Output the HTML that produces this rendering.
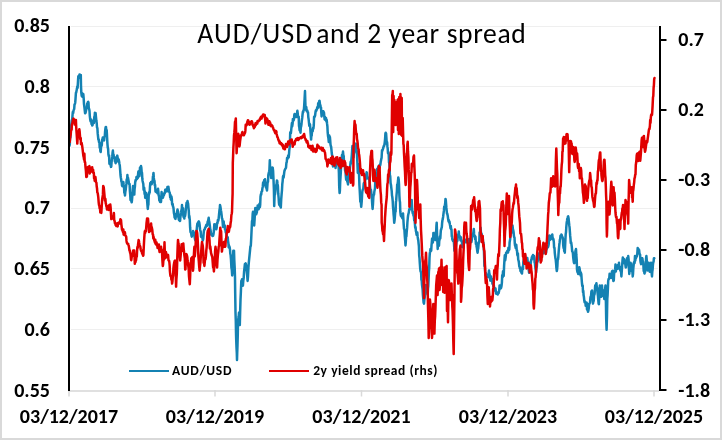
<!DOCTYPE html>
<html><head><meta charset="utf-8"><title>AUD/USD and 2 year spread</title>
<style>
html,body{margin:0;padding:0;background:#fff;}
body{width:722px;height:440px;overflow:hidden;}
svg{display:block;}
.ax{font-family:Carlito, 'Liberation Sans', sans-serif;font-weight:bold;font-size:20px;fill:#000;}
.lg{font-family:Carlito, 'Liberation Sans', sans-serif;font-weight:bold;font-size:13.5px;fill:#000;}
.tt{font-family:Carlito, 'Liberation Sans', sans-serif;font-size:27.6px;fill:#000;}
</style></head>
<body>
<svg width="722" height="440" viewBox="0 0 722 440">
<rect x="1" y="1" width="720" height="438" fill="#fff" stroke="#d9d9d9" stroke-width="2"/>
<line x1="71" y1="26.5" x2="658" y2="26.5" stroke="#efefef" stroke-width="1"/>
<line x1="71" y1="86.5" x2="658" y2="86.5" stroke="#efefef" stroke-width="1"/>
<line x1="71" y1="147.5" x2="658" y2="147.5" stroke="#efefef" stroke-width="1"/>
<line x1="71" y1="208.5" x2="658" y2="208.5" stroke="#efefef" stroke-width="1"/>
<line x1="71" y1="268.5" x2="658" y2="268.5" stroke="#efefef" stroke-width="1"/>
<line x1="71" y1="329.5" x2="658" y2="329.5" stroke="#efefef" stroke-width="1"/>
<line x1="69" y1="391" x2="659" y2="391" stroke="#d6d6d6" stroke-width="1.5"/>
<line x1="69" y1="390" x2="69" y2="396.5" stroke="#d9d9d9" stroke-width="1.5"/>
<line x1="215" y1="390" x2="215" y2="396.5" stroke="#d9d9d9" stroke-width="1.5"/>
<line x1="361.5" y1="390" x2="361.5" y2="396.5" stroke="#d9d9d9" stroke-width="1.5"/>
<line x1="508" y1="390" x2="508" y2="396.5" stroke="#d9d9d9" stroke-width="1.5"/>
<line x1="654" y1="390" x2="654" y2="396.5" stroke="#d9d9d9" stroke-width="1.5"/>
<text x="197.3" y="42.7" class="tt" textLength="114.84" lengthAdjust="spacing">AUD/USD</text>
<text x="316.2" y="42.7" class="tt" textLength="209.55" lengthAdjust="spacing">and 2 year spread</text>
<polyline points="69.5,145.8 69.8,144.2 70.0,137.6 70.4,137.7 70.7,131.9 71.1,127.3 71.4,123.8 71.8,120.1 72.2,119.5 72.5,115.6 72.8,112.0 73.2,113.0 73.5,110.6 73.9,109.6 74.2,108.9 74.5,104.7 74.9,104.0 75.2,102.7 75.5,99.1 75.9,93.0 76.2,92.5 76.6,90.6 76.9,89.1 77.3,86.4 77.6,87.8 78.0,81.4 78.3,76.2 78.6,76.0 78.9,77.8 79.2,76.0 79.5,74.5 79.8,76.7 80.2,74.7 80.5,75.3 80.8,75.0 81.0,85.8 81.3,92.5 81.7,95.8 82.0,96.1 82.4,96.6 82.7,93.9 83.0,95.2 83.3,94.0 83.7,98.6 84.0,104.1 84.4,107.0 84.7,109.8 85.1,113.3 85.4,113.0 85.8,111.9 86.1,110.2 86.5,108.0 86.8,108.1 87.2,103.7 87.5,104.0 87.8,102.3 88.2,101.8 88.5,102.7 88.8,108.8 89.2,109.1 89.5,111.0 89.8,115.8 90.2,119.3 90.5,121.0 90.8,121.6 91.2,119.4 91.5,123.9 91.9,123.2 92.2,125.6 92.6,125.0 92.9,121.5 93.3,120.9 93.6,123.0 93.9,123.0 94.3,116.8 94.6,117.0 94.9,112.7 95.3,113.4 95.6,113.0 96.0,117.4 96.3,120.3 96.7,123.0 97.0,127.2 97.4,128.3 97.7,133.4 98.0,136.1 98.4,139.8 98.7,139.5 99.0,142.1 99.4,142.2 99.7,147.7 100.0,146.9 100.4,151.3 100.7,152.0 101.1,146.6 101.4,146.2 101.8,145.0 102.1,140.2 102.5,139.0 102.8,137.4 103.1,137.5 103.5,138.8 103.8,139.8 104.1,140.4 104.4,137.0 104.8,136.2 105.1,131.6 105.4,128.7 105.7,127.1 106.0,127.0 106.4,131.7 106.7,130.1 107.1,137.8 107.4,143.4 107.8,147.8 108.1,148.6 108.4,154.3 108.8,156.3 109.1,155.5 109.4,163.7 109.7,162.4 110.0,162.5 110.4,163.9 110.7,165.5 111.0,166.9 111.3,166.2 111.6,162.0 112.0,158.5 112.3,156.2 112.6,152.5 112.9,150.6 113.3,156.5 113.6,154.7 113.9,158.0 114.2,156.9 114.6,157.7 114.9,161.5 115.2,159.3 115.6,163.2 116.0,161.5 116.3,158.0 116.7,157.1 117.0,157.0 117.3,155.6 117.7,158.1 118.0,158.5 118.4,161.8 118.7,159.5 119.1,161.4 119.4,163.7 119.8,165.5 120.1,169.3 120.5,175.0 120.8,177.5 121.1,179.0 121.4,181.5 121.7,182.0 122.0,185.3 122.4,186.3 122.7,182.2 123.0,185.1 123.3,182.0 123.7,184.8 124.0,186.5 124.3,192.8 124.7,193.1 125.0,195.5 125.3,192.1 125.7,189.8 126.0,186.8 126.4,183.9 126.7,179.4 127.1,179.6 127.4,175.0 127.7,178.5 128.0,177.8 128.3,179.5 128.7,181.6 129.0,183.8 129.3,184.2 129.6,184.0 129.9,191.1 130.2,194.7 130.5,200.0 130.8,198.0 131.1,198.4 131.4,201.5 131.7,202.3 132.0,200.0 132.3,196.3 132.7,189.9 133.0,186.0 133.3,188.7 133.7,193.9 134.0,193.0 134.3,194.6 134.6,188.8 134.9,186.8 135.2,182.2 135.6,180.0 135.9,180.5 136.2,178.9 136.5,177.0 136.8,178.2 137.1,178.8 137.4,177.8 137.8,178.0 138.1,174.1 138.4,171.4 138.7,173.0 139.0,172.3 139.4,176.2 139.7,172.2 140.0,167.5 140.3,168.0 140.7,169.7 141.0,166.0 141.3,167.4 141.7,172.3 142.0,172.9 142.3,178.5 142.6,181.0 143.0,182.7 143.3,184.0 143.6,189.8 143.9,187.8 144.2,187.8 144.6,193.8 144.9,191.5 145.2,197.8 145.5,195.5 145.8,196.1 146.2,192.9 146.5,194.0 146.8,197.3 147.2,201.6 147.5,205.7 147.8,209.0 148.1,205.5 148.4,204.6 148.7,195.5 149.1,193.9 149.4,191.8 149.7,192.8 150.0,186.5 150.3,183.1 150.7,183.8 151.0,182.1 151.3,182.1 151.7,184.2 152.0,183.0 152.3,182.0 152.6,182.0 152.9,176.8 153.2,175.4 153.5,173.0 153.8,177.9 154.2,180.6 154.5,180.8 154.8,185.5 155.1,184.7 155.5,191.5 155.8,191.0 156.1,191.9 156.4,190.5 156.7,190.6 157.1,191.5 157.4,193.2 157.7,189.9 158.0,188.7 158.3,191.2 158.7,195.6 159.0,196.2 159.3,200.5 159.6,197.4 160.0,202.0 160.3,202.0 160.6,200.4 161.0,202.0 161.3,197.6 161.6,192.1 161.9,195.8 162.3,195.9 162.6,195.0 162.9,197.7 163.3,196.3 163.6,195.3 163.9,195.3 164.2,193.3 164.6,193.4 164.9,193.0 165.2,189.8 165.5,192.0 165.9,189.7 166.2,189.3 166.5,190.0 166.8,190.4 167.1,191.0 167.4,187.1 167.8,191.3 168.1,187.2 168.4,186.8 168.8,189.7 169.1,191.8 169.4,192.0 169.8,192.9 170.2,197.3 170.5,195.0 170.8,199.3 171.1,199.7 171.4,196.5 171.8,198.7 172.1,204.0 172.4,204.8 172.7,203.9 173.0,207.0 173.3,207.0 173.6,209.2 173.9,213.0 174.3,214.7 174.6,217.5 174.9,216.0 175.2,218.6 175.5,218.9 175.9,215.5 176.2,214.0 176.5,216.5 176.8,213.2 177.2,210.9 177.5,209.5 177.8,210.8 178.2,211.9 178.5,217.1 178.8,219.5 179.1,220.1 179.5,220.4 179.8,221.0 180.1,221.0 180.4,217.0 180.7,215.2 181.1,212.9 181.4,210.1 181.7,210.6 182.0,205.0 182.3,211.3 182.7,212.7 183.0,208.3 183.3,215.5 183.6,216.9 184.0,216.4 184.3,218.6 184.6,216.2 185.0,216.2 185.3,214.7 185.6,212.0 185.9,208.3 186.3,205.3 186.6,202.7 186.9,204.4 187.2,203.0 187.5,201.1 187.8,202.7 188.1,203.7 188.4,207.3 188.8,211.1 189.1,217.8 189.4,216.0 189.8,220.1 190.1,227.2 190.5,232.0 190.8,232.3 191.2,233.3 191.5,235.8 191.8,236.6 192.1,234.4 192.5,233.3 192.8,234.5 193.1,231.1 193.4,232.5 193.7,235.1 194.0,232.5 194.3,234.2 194.6,237.1 195.0,239.1 195.3,240.2 195.6,240.5 196.0,238.2 196.4,231.0 196.7,229.9 197.0,226.4 197.4,223.5 197.7,225.6 198.0,223.0 198.4,221.8 198.8,221.4 199.2,222.3 199.6,224.6 200.0,229.2 200.4,231.0 200.7,231.2 201.0,236.6 201.4,237.0 201.7,235.7 202.0,237.3 202.4,237.6 202.8,240.5 203.2,238.9 203.6,234.0 203.9,231.0 204.2,229.7 204.5,229.7 204.8,229.2 205.1,227.7 205.4,227.2 205.7,227.2 206.1,225.4 206.4,224.8 206.7,224.6 207.0,225.9 207.3,224.6 207.7,221.4 208.0,223.9 208.3,219.8 208.7,217.8 209.1,221.4 209.5,223.1 209.9,226.1 210.3,229.6 210.7,231.0 211.1,234.7 211.5,234.0 211.8,235.2 212.1,234.2 212.5,236.0 212.8,235.3 213.1,235.7 213.5,234.2 213.9,231.0 214.3,224.2 214.7,227.7 215.1,225.3 215.5,224.6 215.9,225.2 216.3,229.3 216.7,227.4 217.1,223.0 217.5,223.2 217.9,219.8 218.3,220.9 218.7,218.2 219.1,213.9 219.5,210.0 219.8,208.3 220.0,205.0 220.3,206.1 220.6,208.0 220.9,210.2 221.2,211.8 221.6,214.8 221.9,218.2 222.3,218.9 222.7,223.0 223.0,226.9 223.3,226.6 223.7,221.6 224.0,226.2 224.3,226.1 224.7,225.3 225.0,229.3 225.4,229.7 225.8,232.5 226.1,232.3 226.4,233.6 226.8,236.4 227.1,237.0 227.4,238.9 227.7,237.2 228.0,240.6 228.4,243.2 228.7,247.5 229.0,245.3 229.3,247.5 229.6,246.9 230.0,249.6 230.3,253.7 230.6,254.8 231.0,259.7 231.4,267.5 231.8,269.7 232.2,275.5 232.6,269.7 233.0,262.8 233.3,250.7 233.7,250.8 234.0,250.7 234.3,260.2 234.7,267.7 235.0,277.8 235.2,293.3 235.5,312.5 235.8,321.3 236.0,332.5 236.2,339.4 236.5,347.5 236.8,352.9 237.0,360.0 237.2,353.1 237.5,345.0 237.8,333.7 238.0,320.0 238.3,318.9 238.7,316.3 239.0,312.5 239.4,317.5 239.8,325.0 240.2,310.0 240.5,300.0 240.9,291.3 241.3,281.0 241.7,280.5 242.0,279.4 242.3,281.8 242.6,281.5 242.9,285.7 243.3,280.7 243.7,277.8 244.1,271.4 244.5,268.0 244.9,264.0 245.3,264.2 245.7,263.3 246.0,266.0 246.4,265.3 246.8,271.4 247.2,275.3 247.6,281.0 248.0,276.5 248.4,268.0 248.8,262.6 249.2,258.7 249.6,254.7 250.0,250.7 250.4,246.3 250.8,246.0 251.2,238.7 251.6,230.0 252.0,221.0 252.3,221.7 252.7,213.6 253.0,211.8 253.3,214.4 253.6,221.1 253.9,223.5 254.2,225.5 254.6,219.4 255.0,212.0 255.3,208.1 255.6,210.2 255.9,212.7 256.2,214.3 256.5,211.0 256.8,212.8 257.1,209.7 257.4,208.4 257.7,205.5 258.0,209.0 258.3,205.3 258.6,209.2 258.9,207.6 259.2,207.0 259.5,203.7 259.9,207.2 260.2,204.7 260.5,196.8 260.9,194.3 261.2,194.7 261.5,191.8 261.8,191.4 262.1,191.1 262.4,188.4 262.8,186.4 263.1,182.5 263.4,184.9 263.7,182.7 264.0,181.2 264.3,179.9 264.6,181.0 265.0,179.3 265.3,181.7 265.6,186.7 266.0,187.0 266.3,188.0 266.6,188.4 267.0,190.5 267.3,186.6 267.6,182.5 268.0,181.8 268.3,175.3 268.6,173.6 269.0,172.0 269.4,170.0 269.8,160.3 270.1,168.3 270.5,172.0 270.9,175.4 271.2,178.0 271.5,176.7 271.9,174.0 272.3,167.4 272.7,167.7 273.1,171.0 273.5,179.5 273.9,189.5 274.2,206.0 274.6,195.1 275.0,194.3 275.4,190.6 275.7,187.0 276.0,187.6 276.3,184.8 276.6,184.1 276.9,180.5 277.2,181.0 277.5,183.9 277.9,186.0 278.2,193.2 278.6,197.3 278.9,202.4 279.2,204.8 279.5,204.6 279.8,204.7 280.1,206.0 280.5,205.3 280.8,207.6 281.2,199.4 281.6,194.3 282.0,189.8 282.3,184.0 282.6,181.6 283.0,176.6 283.3,175.8 283.6,177.5 283.9,175.3 284.2,172.6 284.5,170.7 284.9,169.7 285.2,169.0 285.6,168.5 286.0,167.7 286.4,163.0 286.8,161.8 287.1,157.9 287.5,158.9 287.8,157.9 288.1,156.0 288.4,155.3 288.7,157.4 289.0,154.4 289.3,149.9 289.7,147.4 290.0,140.0 290.2,132.7 290.5,132.0 290.9,133.0 291.2,130.2 291.5,127.0 291.9,123.1 292.2,126.4 292.6,123.8 292.9,118.9 293.2,120.7 293.6,120.5 294.0,119.0 294.3,114.9 294.6,114.0 295.0,114.3 295.3,114.7 295.7,116.9 296.0,117.0 296.3,117.1 296.7,116.8 297.0,113.6 297.4,110.8 297.7,113.1 298.0,116.3 298.4,117.7 298.7,116.6 299.0,126.0 299.3,127.2 299.6,130.3 299.9,129.0 300.2,130.3 300.5,132.7 300.8,127.7 301.2,126.2 301.5,124.0 301.8,120.7 302.2,117.9 302.5,115.0 302.9,111.7 303.2,112.4 303.5,110.3 303.9,109.6 304.2,105.7 304.6,98.6 305.0,91.1 305.3,101.4 305.6,109.6 305.9,107.6 306.3,107.0 306.6,111.0 307.0,110.4 307.3,110.4 307.6,112.5 308.0,112.3 308.3,117.3 308.6,119.0 309.0,123.0 309.3,126.0 309.6,123.8 310.0,124.6 310.3,128.7 310.7,134.3 311.1,139.6 311.4,134.9 311.7,135.7 312.0,131.4 312.4,131.0 312.7,131.1 313.0,128.0 313.4,128.7 313.8,125.0 314.1,116.7 314.4,117.3 314.8,116.4 315.1,115.5 315.5,112.1 315.9,110.3 316.2,111.0 316.5,109.6 316.9,109.5 317.2,107.3 317.5,108.2 317.9,108.0 318.2,103.2 318.5,106.3 318.9,104.0 319.2,101.2 319.5,100.7 319.8,102.5 320.1,106.3 320.4,105.0 320.7,108.2 321.0,107.4 321.3,112.7 321.6,116.4 322.0,113.3 322.3,111.6 322.6,111.2 323.0,112.3 323.3,111.3 323.6,111.9 324.0,112.7 324.3,116.4 324.6,119.3 325.0,117.1 325.4,120.0 325.7,119.0 326.0,117.9 326.4,121.5 326.7,119.9 327.0,123.2 327.4,126.4 327.7,132.7 328.1,136.5 328.4,138.1 328.8,142.0 329.2,135.4 329.6,136.8 329.9,136.9 330.2,140.4 330.5,144.5 330.8,146.0 331.1,146.6 331.4,149.4 331.7,152.5 332.0,155.0 332.3,155.6 332.7,161.4 333.0,166.4 333.3,163.3 333.6,164.4 333.9,162.8 334.2,161.8 334.5,163.0 334.9,160.2 335.2,164.8 335.5,168.0 335.9,165.4 336.2,163.0 336.6,162.1 336.9,159.4 337.2,160.4 337.6,159.5 337.9,162.0 338.2,163.7 338.5,163.6 338.9,172.8 339.2,186.2 339.6,193.0 339.9,190.5 340.2,181.8 340.5,177.2 340.8,172.7 341.1,165.0 341.4,162.6 341.7,160.4 342.0,155.0 342.3,157.7 342.6,155.0 343.0,151.6 343.3,155.0 343.7,155.9 344.0,161.7 344.4,161.8 344.8,165.8 345.1,170.6 345.5,171.0 345.8,175.6 346.1,179.2 346.4,180.0 346.7,180.0 347.0,180.0 347.3,181.9 347.6,181.8 348.0,184.4 348.3,177.4 348.6,171.1 349.0,172.0 349.3,173.6 349.7,170.9 350.0,167.1 350.3,165.0 350.7,161.7 351.0,163.6 351.4,159.6 351.8,155.0 352.1,150.9 352.4,146.0 352.8,148.7 353.1,152.4 353.5,157.3 353.9,153.0 354.2,152.8 354.6,148.0 354.9,147.1 355.2,148.5 355.5,143.9 355.8,143.6 356.1,145.0 356.4,148.0 356.7,150.7 357.0,155.0 357.4,163.2 357.8,172.7 358.1,170.1 358.5,164.0 358.8,173.1 359.1,175.4 359.4,185.0 359.7,190.0 360.0,195.5 360.3,201.6 360.6,201.8 360.9,202.6 361.2,206.8 361.5,203.9 361.8,200.4 362.1,194.5 362.4,191.0 362.7,189.9 363.0,189.2 363.3,188.7 363.7,183.9 364.0,182.8 364.3,184.1 364.6,184.0 364.9,182.6 365.3,179.8 365.6,175.5 365.9,179.0 366.2,175.8 366.6,172.3 366.9,172.7 367.2,176.0 367.6,177.4 367.9,178.2 368.3,178.7 368.6,178.9 369.0,178.0 369.3,178.9 369.6,182.0 369.9,185.1 370.2,188.1 370.6,190.3 370.9,189.6 371.2,191.7 371.5,195.5 371.9,198.9 372.2,203.8 372.6,209.0 373.0,203.6 373.3,198.0 373.6,195.0 374.0,195.0 374.3,191.9 374.7,189.7 375.0,188.3 375.3,181.4 375.7,180.3 376.0,179.5 376.3,179.0 376.6,172.8 376.9,171.5 377.2,168.8 377.6,172.4 377.9,170.1 378.2,167.1 378.5,166.4 378.8,166.0 379.1,165.5 379.4,166.9 379.7,167.6 380.0,164.5 380.3,165.1 380.7,162.1 381.0,160.6 381.3,158.9 381.6,157.7 382.0,150.3 382.3,151.0 382.6,149.9 382.9,149.1 383.2,148.3 383.6,146.6 383.9,145.7 384.2,145.9 384.5,144.0 384.8,141.8 385.1,138.8 385.4,133.6 385.7,132.7 386.1,133.5 386.4,137.9 386.8,144.0 387.1,142.2 387.4,146.4 387.7,148.6 388.0,153.2 388.3,152.1 388.7,154.3 389.0,162.3 389.3,163.3 389.6,167.3 389.9,176.2 390.2,176.0 390.6,183.2 391.0,185.0 391.3,187.8 391.7,190.8 392.0,195.5 392.3,197.0 392.7,200.8 393.0,206.8 393.3,209.5 393.6,214.3 393.9,217.4 394.2,222.7 394.6,220.1 394.9,216.7 395.3,211.4 395.6,211.6 395.9,202.2 396.2,200.4 396.5,195.5 396.9,191.2 397.2,184.6 397.6,184.0 398.0,181.0 398.3,177.4 398.7,179.5 399.0,184.1 399.4,195.8 399.7,200.6 400.0,202.3 400.3,211.5 400.7,215.1 401.0,216.0 401.3,214.4 401.7,216.8 402.0,217.2 402.3,218.1 402.6,215.7 403.0,213.4 403.3,218.0 403.7,224.6 404.0,228.8 404.4,229.5 404.8,236.3 405.1,239.7 405.5,245.5 405.8,242.3 406.1,236.3 406.4,236.4 406.7,231.8 407.1,227.9 407.4,222.5 407.8,218.0 408.1,215.4 408.4,214.0 408.8,212.7 409.1,210.1 409.4,209.0 409.8,209.6 410.1,207.9 410.5,206.0 410.8,204.6 411.1,201.4 411.4,203.3 411.7,200.0 412.1,207.6 412.4,211.3 412.8,213.6 413.1,211.9 413.5,216.0 413.9,216.0 414.2,220.4 414.6,220.5 414.9,223.3 415.2,227.6 415.6,227.2 415.9,231.0 416.2,231.8 416.6,234.9 417.0,235.0 417.3,232.5 417.6,236.4 418.0,239.1 418.3,240.4 418.6,243.6 418.9,246.2 419.2,255.6 419.5,258.0 419.8,262.8 420.2,268.3 420.5,271.0 420.8,271.9 421.1,272.4 421.4,280.0 421.7,280.1 422.0,284.8 422.3,287.0 422.6,289.3 422.9,294.9 423.2,298.0 423.6,302.5 424.0,303.6 424.3,300.2 424.7,297.3 425.0,294.5 425.3,289.9 425.7,289.8 426.0,285.0 426.3,290.8 426.7,290.9 427.0,290.4 427.4,291.2 427.7,294.5 428.0,288.7 428.3,286.2 428.6,280.0 428.9,271.6 429.2,267.8 429.5,258.0 429.8,253.4 430.2,251.5 430.5,249.0 430.8,250.2 431.2,250.8 431.5,245.5 431.8,242.5 432.1,238.6 432.4,239.6 432.8,242.6 433.1,240.5 433.4,232.9 433.7,234.9 434.1,239.1 434.4,234.0 434.8,235.1 435.1,239.5 435.5,240.0 435.8,232.1 436.1,233.3 436.4,226.0 436.7,222.7 437.0,232.7 437.4,242.3 437.7,249.0 438.0,243.5 438.4,243.1 438.7,245.8 439.0,245.5 439.3,240.1 439.6,240.0 439.9,236.5 440.3,238.3 440.6,233.7 440.9,229.9 441.2,229.5 441.5,227.9 441.8,227.5 442.1,223.2 442.4,220.5 442.8,218.9 443.1,217.0 443.5,213.6 443.9,210.7 444.2,206.6 444.6,206.8 444.9,205.4 445.2,202.8 445.5,198.9 445.8,200.0 446.1,204.2 446.4,207.9 446.7,210.8 447.0,213.6 447.3,213.8 447.7,215.7 448.0,218.0 448.3,220.1 448.6,221.6 448.9,220.3 449.2,222.7 449.5,221.6 449.9,224.7 450.2,226.0 450.5,228.3 450.8,225.9 451.2,229.8 451.5,229.5 451.8,236.5 452.0,236.0 452.4,239.9 452.7,239.1 453.0,241.1 453.4,240.0 453.7,240.6 454.0,243.4 454.4,250.7 454.7,249.6 455.0,246.6 455.4,245.0 455.7,247.6 456.0,246.0 456.4,243.1 456.7,240.8 457.1,237.7 457.4,240.8 457.8,236.1 458.1,234.6 458.5,234.3 458.8,231.6 459.1,236.0 459.5,236.0 459.9,236.4 460.2,237.6 460.5,240.3 460.9,237.3 461.2,241.0 461.5,240.2 461.9,241.9 462.2,246.8 462.5,245.3 462.9,247.2 463.2,242.4 463.5,243.0 463.9,241.6 464.2,241.4 464.6,242.6 464.9,239.6 465.2,240.7 465.6,240.0 466.0,242.1 466.3,241.4 466.6,241.4 467.0,242.0 467.4,242.7 467.7,242.5 468.0,243.3 468.4,240.0 468.7,239.2 469.0,242.8 469.4,241.4 469.7,239.5 470.0,242.0 470.4,239.9 470.7,238.3 471.1,239.6 471.4,242.0 471.8,240.0 472.1,234.8 472.5,233.9 472.8,236.4 473.1,234.6 473.5,231.4 473.8,229.0 474.1,233.9 474.5,236.0 474.9,235.9 475.2,239.3 475.5,236.8 475.9,244.0 476.2,242.2 476.6,246.8 476.9,248.0 477.2,250.7 477.6,252.7 477.9,249.6 478.2,248.6 478.6,244.1 478.9,242.3 479.3,241.4 479.6,232.6 480.0,231.8 480.3,231.1 480.6,227.7 481.0,233.1 481.3,233.2 481.6,233.7 482.0,236.0 482.4,240.9 482.7,237.7 483.0,241.6 483.4,242.7 483.7,246.1 484.0,252.3 484.4,266.0 484.8,265.3 485.1,271.6 485.5,275.0 485.8,273.0 486.2,277.2 486.5,274.7 486.8,276.1 487.1,275.7 487.5,276.9 487.8,277.3 488.1,274.4 488.4,275.1 488.7,273.7 489.0,270.5 489.3,273.2 489.7,274.6 490.0,276.8 490.3,280.7 490.6,276.8 490.9,276.3 491.2,277.3 491.5,280.1 491.8,280.8 492.1,279.0 492.4,283.6 492.8,283.4 493.1,284.4 493.5,286.4 493.9,285.5 494.2,288.8 494.6,290.5 494.9,288.4 495.2,289.6 495.5,288.4 495.8,291.0 496.1,293.7 496.4,292.0 496.7,293.2 497.0,292.7 497.3,293.6 497.7,294.5 498.0,293.0 498.3,292.6 498.6,293.2 498.9,291.8 499.2,290.5 499.6,285.4 499.9,288.5 500.3,288.6 500.6,285.3 500.9,288.3 501.2,287.4 501.5,286.0 501.9,282.6 502.2,275.2 502.6,277.3 503.0,271.3 503.3,272.5 503.7,276.0 504.1,265.9 504.5,259.5 504.8,255.3 505.2,260.4 505.5,258.3 505.8,256.0 506.1,252.9 506.5,252.5 506.8,252.7 507.1,251.5 507.4,250.8 507.7,251.1 508.1,252.5 508.4,247.8 508.7,249.9 509.0,250.0 509.3,249.2 509.6,242.5 509.9,240.8 510.2,239.0 510.5,235.7 510.8,232.0 511.1,233.3 511.4,230.0 511.8,228.2 512.1,229.1 512.5,225.5 512.9,229.2 513.2,229.9 513.6,232.3 513.9,235.6 514.2,237.4 514.5,237.5 514.8,243.6 515.1,245.9 515.4,246.0 515.7,248.0 516.0,246.0 516.3,244.8 516.7,250.2 517.0,250.5 517.3,254.7 517.6,255.5 517.9,253.4 518.2,259.5 518.6,260.8 518.9,262.5 519.3,266.4 519.6,266.7 519.9,268.6 520.2,268.1 520.5,271.0 520.9,270.9 521.2,272.1 521.6,273.0 522.0,273.5 522.3,269.2 522.7,266.4 523.0,269.3 523.3,262.1 523.6,260.7 523.9,259.5 524.3,260.2 524.6,254.2 525.0,255.0 525.3,258.5 525.7,261.9 526.0,264.0 526.3,261.6 526.6,260.3 527.0,262.2 527.3,258.0 527.7,261.5 528.0,265.6 528.4,268.6 528.8,270.4 529.1,272.8 529.5,271.0 529.8,266.1 530.1,263.7 530.4,262.1 530.7,264.0 531.1,260.1 531.4,260.2 531.8,257.3 532.1,258.5 532.4,256.1 532.7,258.5 533.0,255.0 533.3,256.1 533.7,257.2 534.0,256.0 534.3,257.6 534.6,262.5 534.9,262.8 535.2,266.4 535.5,268.9 535.8,269.7 536.1,272.3 536.4,268.6 536.8,266.8 537.1,262.0 537.5,261.8 537.9,260.5 538.2,258.2 538.6,255.0 538.9,254.8 539.2,253.2 539.5,257.2 539.8,257.0 540.1,254.1 540.4,256.3 540.7,260.3 541.0,259.5 541.3,257.2 541.7,255.8 542.0,252.7 542.3,253.3 542.6,253.1 542.9,253.5 543.2,250.5 543.5,252.7 543.9,250.8 544.2,248.8 544.5,250.1 544.8,249.9 545.2,252.1 545.5,252.0 545.8,253.6 546.1,252.5 546.4,248.8 546.8,248.8 547.1,247.8 547.4,246.0 547.7,246.0 548.0,247.2 548.4,245.8 548.7,244.2 549.0,240.0 549.3,235.4 549.7,236.9 550.0,239.0 550.3,239.6 550.7,237.7 551.0,237.0 551.3,235.9 551.6,236.5 552.0,235.4 552.3,234.5 552.7,239.3 553.0,238.3 553.4,239.0 553.8,241.7 554.1,247.6 554.5,248.0 554.8,253.1 555.1,255.7 555.4,258.2 555.7,259.5 556.1,263.7 556.4,267.9 556.8,271.0 557.1,269.4 557.4,265.8 557.7,259.0 558.0,259.5 558.3,257.3 558.7,251.4 559.0,248.0 559.3,244.5 559.6,242.5 559.9,239.6 560.2,239.0 560.5,235.7 560.8,235.9 561.1,237.1 561.4,234.5 561.8,235.2 562.1,237.0 562.5,237.0 562.9,238.3 563.2,245.1 563.6,248.0 563.9,247.2 564.2,251.1 564.5,250.3 564.8,252.7 565.1,246.1 565.4,239.7 565.7,234.1 566.0,232.3 566.3,227.1 566.7,222.5 567.0,221.0 567.3,218.7 567.6,220.5 567.9,216.5 568.2,216.4 568.6,218.5 568.9,222.0 569.3,225.5 569.6,227.6 569.9,231.8 570.2,235.9 570.5,239.0 570.8,243.1 571.2,242.4 571.5,244.6 571.8,246.8 572.2,251.5 572.5,251.4 572.9,253.2 573.2,257.4 573.6,260.5 573.9,262.5 574.2,263.2 574.5,261.3 574.8,262.7 575.1,257.0 575.4,251.6 575.7,250.1 576.0,249.0 576.3,254.7 576.7,259.5 577.0,269.5 577.3,271.3 577.6,272.3 577.9,272.6 578.2,274.0 578.6,270.7 578.9,270.1 579.3,267.3 579.6,268.5 580.0,271.4 580.3,271.5 580.6,275.6 580.9,272.8 581.3,274.2 581.6,278.6 582.0,283.5 582.3,286.0 582.7,285.5 583.0,292.3 583.3,290.8 583.6,295.3 583.9,296.8 584.3,300.6 584.6,302.3 585.0,301.4 585.4,302.5 585.7,305.8 586.1,303.6 586.4,305.9 586.7,302.8 587.0,309.5 587.3,306.0 587.7,309.0 588.0,311.8 588.4,310.5 588.8,307.7 589.1,304.0 589.5,303.6 589.8,303.0 590.1,302.1 590.4,297.6 590.7,296.8 591.1,295.5 591.4,291.3 591.8,292.3 592.1,290.5 592.4,298.6 592.7,298.8 593.0,303.6 593.3,301.9 593.7,300.8 594.0,296.0 594.3,294.8 594.6,294.1 594.9,289.8 595.2,285.5 595.5,286.0 595.8,284.7 596.1,284.7 596.4,283.2 596.8,287.2 597.1,287.8 597.5,292.3 597.9,295.5 598.2,299.0 598.6,303.6 598.9,304.2 599.2,298.4 599.5,289.7 599.8,285.5 600.1,289.4 600.4,288.1 600.7,293.2 601.0,296.8 601.3,296.3 601.7,290.4 602.0,285.5 602.3,290.5 602.7,290.0 603.0,292.0 603.3,294.7 603.6,296.5 604.0,293.4 604.3,299.0 604.6,292.9 604.9,295.1 605.2,288.1 605.5,285.5 605.9,302.3 606.2,318.9 606.6,329.8 607.0,315.5 607.3,299.0 607.6,295.2 607.9,288.4 608.2,281.0 608.6,278.9 608.9,279.1 609.3,277.9 609.6,273.8 610.0,274.0 610.3,274.0 610.7,273.7 611.0,278.0 611.3,274.9 611.6,274.4 612.0,271.3 612.3,271.8 612.7,270.7 613.0,278.0 613.4,281.0 613.8,280.4 614.1,273.9 614.5,271.8 614.8,271.0 615.2,269.2 615.5,264.4 615.8,271.6 616.1,269.9 616.5,265.6 616.8,267.3 617.1,268.5 617.4,268.0 617.7,268.8 618.0,265.0 618.3,266.6 618.7,265.2 619.0,262.7 619.3,267.7 619.7,266.7 620.0,268.0 620.4,270.7 620.7,270.3 621.0,271.5 621.4,276.4 621.8,270.7 622.1,266.1 622.5,260.5 622.8,257.6 623.2,260.3 623.5,262.4 623.8,258.7 624.1,259.3 624.5,263.4 624.8,260.5 625.1,261.5 625.4,264.8 625.7,267.4 626.0,267.3 626.3,265.1 626.7,261.8 627.0,258.2 627.3,258.9 627.6,258.0 627.9,257.1 628.2,256.0 628.6,259.4 628.9,267.7 629.3,274.0 629.6,269.6 629.9,270.7 630.2,270.5 630.5,262.7 630.8,268.3 631.1,263.6 631.4,269.6 631.8,271.1 632.1,270.6 632.4,271.5 632.7,276.4 633.0,274.1 633.3,268.7 633.6,265.7 633.9,262.7 634.2,261.9 634.6,263.0 635.0,255.9 635.3,260.7 635.6,257.7 636.0,258.2 636.3,255.9 636.6,256.7 637.0,255.7 637.3,253.6 637.7,247.9 638.0,250.4 638.4,249.0 638.8,250.2 639.1,250.0 639.5,253.6 639.8,254.1 640.1,254.6 640.4,260.8 640.7,262.7 641.1,264.1 641.4,259.4 641.8,258.2 642.1,258.8 642.4,258.3 642.7,260.8 643.1,262.0 643.4,265.5 643.7,271.0 644.0,269.5 644.3,273.0 644.6,273.4 644.9,270.2 645.2,271.8 645.5,269.1 645.8,262.9 646.1,258.0 646.4,256.0 646.8,260.6 647.1,263.6 647.5,267.3 647.9,270.5 648.2,266.0 648.6,262.7 648.9,264.9 649.2,268.7 649.5,267.7 649.8,271.8 650.1,270.3 650.4,270.5 650.7,265.7 651.0,262.7 651.3,266.5 651.7,273.7 652.0,276.4 652.3,271.4 652.6,269.8 652.9,265.2 653.2,262.7 653.6,261.5 653.9,258.3 654.3,258.2" fill="none" stroke="#1482b3" stroke-width="2.5" stroke-linejoin="round" stroke-linecap="round"/>
<polyline points="69.3,136.0 69.7,142.2 70.0,139.5 70.3,136.7 70.7,134.6 71.0,131.0 71.3,130.0 71.6,129.7 71.9,124.3 72.2,125.0 72.5,122.6 72.8,121.1 73.2,119.4 73.5,118.6 73.8,120.0 74.1,119.3 74.4,120.9 74.7,121.0 75.0,124.0 75.3,124.9 75.6,124.5 75.9,119.9 76.2,127.0 76.6,132.9 76.9,137.4 77.3,143.6 77.6,138.6 78.0,136.8 78.3,133.4 78.6,132.5 79.0,130.9 79.3,129.3 79.6,131.1 80.0,136.0 80.3,139.5 80.7,137.9 81.0,144.1 81.4,143.6 81.7,143.1 82.1,145.4 82.4,147.7 82.7,150.2 83.1,153.6 83.4,156.0 83.7,157.1 84.1,159.8 84.4,153.8 84.7,162.0 85.1,162.0 85.5,167.0 85.9,170.7 86.3,177.0 86.6,174.3 86.9,176.7 87.2,171.8 87.5,172.0 87.8,170.8 88.1,166.9 88.4,169.8 88.7,170.5 89.0,166.8 89.4,166.1 89.7,173.5 90.0,172.5 90.3,170.8 90.7,170.7 91.0,170.5 91.3,167.8 91.6,167.9 91.9,171.0 92.2,167.3 92.5,172.0 92.8,171.8 93.1,169.7 93.5,173.3 93.8,172.6 94.1,178.5 94.4,177.0 94.7,180.8 95.1,179.2 95.4,177.0 95.7,179.4 96.0,182.5 96.4,182.6 96.7,186.5 97.0,188.2 97.3,192.3 97.7,193.0 98.0,195.0 98.3,197.3 98.7,202.6 99.0,205.0 99.3,205.6 99.7,208.5 100.0,207.9 100.3,212.3 100.6,210.7 101.0,209.6 101.3,213.0 101.6,208.5 101.9,203.7 102.2,199.1 102.6,196.6 102.9,194.9 103.2,186.1 103.5,186.5 103.8,187.8 104.1,191.2 104.4,194.3 104.7,198.0 105.0,200.7 105.4,198.8 105.7,203.2 106.0,204.0 106.3,206.0 106.7,207.1 107.0,209.5 107.3,207.6 107.7,206.3 108.0,207.0 108.3,206.6 108.7,209.9 109.0,208.5 109.3,205.0 109.6,207.2 110.0,206.3 110.3,204.6 110.6,207.4 110.9,212.4 111.3,219.1 111.6,218.6 111.9,216.3 112.3,218.0 112.6,218.3 112.9,216.4 113.2,216.2 113.6,216.8 113.9,213.0 114.2,220.1 114.6,221.0 115.0,223.5 115.3,223.1 115.7,225.4 116.0,225.5 116.3,225.9 116.7,225.3 117.0,223.4 117.3,224.8 117.7,226.4 118.0,223.0 118.3,223.2 118.7,223.0 119.0,223.5 119.3,222.3 119.7,223.5 120.0,222.4 120.4,219.2 120.7,221.0 121.0,219.9 121.4,224.6 121.7,227.0 122.0,229.7 122.3,230.0 122.7,231.1 123.0,232.0 123.3,229.4 123.6,234.5 123.9,231.7 124.3,235.0 124.6,232.0 124.9,232.3 125.2,234.5 125.5,235.5 125.9,236.1 126.2,236.7 126.5,240.9 126.8,242.6 127.2,243.5 127.5,243.6 127.8,244.2 128.2,243.8 128.5,245.1 128.8,246.0 129.1,248.0 129.5,250.8 129.8,250.5 130.1,252.8 130.4,253.4 130.7,255.6 131.0,259.5 131.3,260.1 131.6,257.8 131.9,256.3 132.3,255.1 132.6,254.4 132.9,252.4 133.2,250.5 133.5,254.6 133.9,256.0 134.2,250.6 134.5,255.4 134.8,263.8 135.2,259.4 135.5,262.0 135.8,259.9 136.1,260.0 136.4,256.6 136.8,256.7 137.1,250.4 137.4,247.1 137.7,248.0 138.0,245.0 138.3,242.7 138.6,240.1 138.9,241.0 139.2,242.9 139.6,244.8 139.9,245.9 140.3,246.6 140.7,249.2 141.0,250.5 141.3,251.0 141.7,250.3 142.0,253.0 142.4,253.9 142.7,254.1 143.1,255.8 143.4,255.0 143.8,246.5 144.1,240.6 144.5,234.5 144.8,231.3 145.2,232.8 145.5,230.3 145.8,231.3 146.1,229.2 146.5,223.5 146.8,221.0 147.1,218.5 147.4,220.2 147.7,218.8 148.0,218.6 148.3,222.6 148.7,225.4 149.0,232.0 149.3,231.9 149.7,231.3 150.0,231.1 150.4,230.4 150.7,227.5 151.1,223.6 151.4,227.7 151.7,227.1 152.0,228.5 152.3,230.1 152.7,234.3 153.0,234.4 153.3,238.4 153.6,236.8 153.9,239.0 154.3,240.4 154.6,241.2 155.0,242.7 155.3,239.8 155.7,244.2 156.0,243.6 156.3,244.6 156.6,242.6 156.9,245.3 157.3,245.8 157.6,248.0 157.9,247.9 158.2,246.0 158.6,248.0 158.9,244.5 159.3,250.2 159.6,252.0 160.0,249.0 160.4,250.8 160.7,249.2 161.1,246.8 161.4,251.3 161.7,249.5 162.0,252.0 162.4,260.1 162.8,266.0 163.1,264.4 163.4,260.2 163.7,260.2 164.0,258.0 164.2,250.9 164.5,242.3 164.8,252.0 165.1,254.8 165.4,258.2 165.7,253.7 166.0,252.0 166.3,257.0 166.7,254.8 167.0,254.7 167.4,254.8 167.8,254.7 168.1,255.2 168.5,260.5 168.8,260.5 169.1,260.6 169.4,262.5 169.7,266.0 169.9,271.0 170.2,274.0 170.5,276.2 170.8,275.7 171.1,275.8 171.4,279.8 171.8,279.1 172.1,283.6 172.5,281.0 172.8,276.7 173.1,275.9 173.4,268.4 173.8,265.0 174.2,262.7 174.6,261.0 175.0,260.5 175.3,268.4 175.7,274.0 176.1,286.6 176.4,279.2 176.8,274.0 177.1,265.3 177.3,257.0 177.7,245.8 178.0,240.0 178.4,243.3 178.8,245.7 179.2,252.6 179.5,254.8 179.8,257.1 180.2,260.5 180.6,256.1 181.0,251.4 181.3,249.3 181.6,244.2 181.9,251.1 182.2,245.7 182.6,247.3 182.9,246.5 183.3,243.4 183.7,248.8 184.0,251.4 184.4,255.6 184.8,258.2 185.2,269.5 185.5,269.3 185.8,257.6 186.1,254.8 186.4,254.1 186.7,254.7 187.0,255.7 187.3,257.0 187.6,261.0 187.8,262.7 188.1,265.1 188.4,266.7 188.7,270.0 189.0,276.4 189.4,280.3 189.8,284.3 190.2,275.3 190.5,262.7 190.9,262.5 191.3,258.2 191.7,261.5 192.0,257.5 192.4,257.0 192.7,265.8 193.0,270.7 193.3,267.3 193.6,260.3 193.9,254.8 194.2,249.4 194.4,246.8 194.8,256.4 195.2,252.0 195.6,245.0 196.0,237.1 196.4,231.0 196.8,231.2 197.2,233.0 197.6,237.8 198.0,246.8 198.4,256.7 198.8,261.2 199.2,266.7 199.6,270.7 200.0,266.0 200.4,262.8 200.8,256.5 201.2,251.6 201.6,246.2 202.0,242.0 202.4,244.0 202.8,246.0 203.2,251.1 203.6,262.8 204.0,261.2 204.4,266.0 204.8,262.0 205.1,258.0 205.5,259.3 205.9,256.4 206.3,250.3 206.7,246.8 207.1,239.5 207.5,232.5 207.9,230.6 208.3,231.0 208.7,228.7 209.1,235.7 209.5,240.0 209.9,248.4 210.3,246.5 210.7,250.0 211.1,253.3 211.5,254.8 211.9,255.8 212.3,257.0 212.7,262.1 213.1,267.5 213.5,266.7 213.9,271.5 214.3,266.6 214.7,262.8 215.1,250.9 215.5,246.8 215.9,250.0 216.3,254.8 216.7,263.6 217.1,267.5 217.5,259.6 217.9,254.8 218.3,251.9 218.7,246.8 219.1,245.9 219.5,238.9 219.9,233.8 220.3,227.7 220.7,231.6 221.1,231.0 221.5,242.1 221.9,251.6 222.3,248.5 222.7,246.8 223.1,242.8 223.5,246.8 223.9,242.0 224.3,243.7 224.7,241.4 225.0,246.8 225.4,246.2 225.8,238.9 226.2,238.0 226.6,234.0 227.0,231.8 227.4,229.3 227.8,226.0 228.2,227.7 228.6,231.9 229.0,231.0 229.4,227.9 229.8,227.7 230.2,226.8 230.6,223.0 231.0,220.7 231.4,215.0 231.7,214.0 232.0,211.8 232.3,202.1 232.6,193.6 232.8,162.7 233.1,155.7 233.4,147.5 233.7,142.6 234.0,135.5 234.3,132.9 234.7,128.0 235.0,121.8 235.4,121.8 235.8,118.4 236.2,135.5 236.6,153.2 236.8,149.4 237.1,145.0 237.4,139.4 237.7,136.0 238.0,134.1 238.3,133.9 238.6,136.7 238.8,138.4 239.1,145.4 239.4,146.4 239.7,145.1 240.0,141.8 240.2,140.4 240.5,138.4 240.8,135.5 241.1,136.3 241.4,134.7 241.7,135.0 242.1,132.7 242.4,132.0 242.8,133.9 243.1,133.6 243.4,133.8 243.7,135.3 244.0,135.0 244.4,134.1 244.7,133.4 245.1,132.7 245.4,130.4 245.7,124.8 246.1,125.8 246.4,125.3 246.8,123.6 247.1,124.6 247.4,121.4 247.7,121.7 247.9,120.2 248.2,120.5 248.5,122.5 248.9,122.1 249.2,121.9 249.6,124.8 249.9,124.0 250.2,123.1 250.5,123.5 250.8,122.5 251.2,123.2 251.5,121.2 251.9,121.4 252.3,122.6 252.6,125.1 253.0,124.8 253.3,126.4 253.6,127.0 253.9,128.2 254.2,127.1 254.5,126.0 254.8,127.0 255.2,125.7 255.5,123.2 255.9,124.8 256.3,124.1 256.6,122.7 257.0,122.5 257.3,123.6 257.6,120.9 257.9,121.5 258.2,121.4 258.6,121.3 258.9,120.5 259.3,120.2 259.7,120.2 260.0,118.6 260.4,119.0 260.7,117.4 261.0,116.7 261.3,117.4 261.6,118.5 262.0,116.2 262.3,116.5 262.7,115.7 263.0,114.6 263.3,114.5 263.7,114.4 264.0,114.9 264.4,116.8 264.7,114.9 265.0,118.0 265.2,119.6 265.5,123.6 265.8,122.0 266.1,120.2 266.4,118.1 266.7,119.0 267.1,118.7 267.4,120.4 267.8,120.2 268.1,121.9 268.4,124.8 268.7,123.1 269.0,121.4 269.4,121.3 269.7,124.8 270.1,122.5 270.5,125.7 270.8,126.1 271.2,124.8 271.5,124.9 271.8,126.1 272.1,125.7 272.4,126.0 272.8,127.5 273.1,127.7 273.5,129.3 273.9,130.1 274.2,130.0 274.6,131.6 275.0,131.5 275.3,133.3 275.7,131.0 276.0,131.0 276.3,131.2 276.6,134.0 276.9,135.0 277.3,137.1 277.6,137.1 278.0,138.4 278.3,139.6 278.6,140.2 278.9,141.0 279.2,140.7 279.6,143.3 279.9,142.0 280.3,143.0 280.6,144.0 280.9,143.9 281.2,143.1 281.5,144.0 281.9,145.2 282.2,144.2 282.6,146.4 283.0,145.0 283.3,148.5 283.7,148.6 284.0,148.0 284.3,146.7 284.6,149.3 284.9,149.2 285.3,147.2 285.6,146.1 285.9,144.1 286.2,146.8 286.5,145.5 286.9,143.9 287.2,147.0 287.5,143.9 287.8,144.7 288.2,141.5 288.5,144.5 288.8,142.5 289.2,144.3 289.5,142.4 289.8,140.9 290.1,140.4 290.5,140.8 290.8,140.0 291.1,141.7 291.4,141.3 291.7,139.5 292.1,142.2 292.4,144.2 292.7,146.8 293.0,144.5 293.3,145.1 293.7,144.0 294.0,142.5 294.3,143.2 294.6,144.3 295.0,141.0 295.3,141.0 295.6,140.6 296.0,139.2 296.3,138.9 296.6,139.2 296.9,139.9 297.3,138.3 297.6,138.9 297.9,138.1 298.3,140.0 298.6,139.4 298.9,139.3 299.2,138.8 299.6,137.9 299.9,137.7 300.2,138.0 300.6,138.1 300.9,137.4 301.3,138.2 301.6,137.2 302.0,136.6 302.3,137.6 302.7,136.7 303.0,137.1 303.4,135.5 303.7,135.0 304.1,134.0 304.4,135.5 304.7,137.4 305.1,138.3 305.4,138.9 305.7,140.3 306.0,139.6 306.4,141.2 306.7,142.3 307.0,142.3 307.4,141.2 307.7,143.2 308.0,143.5 308.3,146.8 308.7,145.7 309.0,146.8 309.3,146.1 309.6,148.0 309.9,147.6 310.3,146.0 310.6,147.5 310.9,146.9 311.2,148.0 311.5,150.0 311.9,147.9 312.2,147.8 312.5,145.7 312.8,147.7 313.2,151.5 313.5,150.2 313.8,150.4 314.2,148.8 314.5,149.7 314.8,149.2 315.1,149.2 315.5,152.0 315.8,149.0 316.1,151.8 316.4,151.1 316.7,150.7 317.1,147.3 317.4,144.8 317.7,146.9 318.0,146.9 318.3,146.0 318.6,146.5 318.9,146.5 319.2,147.7 319.6,148.0 319.9,148.0 320.2,148.5 320.5,148.0 320.8,148.0 321.2,147.6 321.5,149.5 321.8,148.2 322.1,150.4 322.5,149.5 322.8,148.0 323.1,149.2 323.4,150.8 323.7,149.9 324.1,150.4 324.4,150.9 324.7,151.9 325.0,152.7 325.3,155.2 325.6,158.8 325.9,159.2 326.2,159.5 326.5,160.4 326.8,161.7 327.1,162.2 327.4,166.4 327.8,164.2 328.1,162.9 328.5,159.5 328.8,160.5 329.1,160.7 329.4,161.2 329.7,161.4 330.0,161.0 330.3,163.0 330.7,161.8 331.0,157.9 331.3,161.9 331.7,164.0 332.0,159.5 332.3,156.6 332.6,158.5 332.9,156.9 333.3,161.1 333.6,160.4 333.9,165.1 334.2,161.8 334.5,165.6 334.9,161.1 335.2,159.5 335.5,158.5 335.8,161.1 336.2,157.6 336.5,159.5 336.8,160.7 337.2,157.3 337.5,163.4 337.9,164.2 338.2,160.5 338.6,160.9 338.9,164.0 339.3,165.9 339.6,166.0 340.0,157.9 340.3,163.3 340.6,168.1 341.0,164.0 341.3,163.8 341.7,160.2 342.0,166.2 342.3,165.3 342.6,164.9 343.0,166.0 343.3,164.0 343.6,161.6 343.9,162.0 344.2,161.1 344.6,161.1 344.9,163.5 345.2,162.5 345.5,166.4 345.8,171.8 346.2,173.0 346.5,172.7 346.8,174.6 347.1,167.0 347.5,167.9 347.8,168.6 348.1,168.0 348.4,169.4 348.7,170.9 349.1,168.1 349.4,167.2 349.7,172.3 350.0,171.0 350.3,179.6 350.7,182.7 351.0,177.0 351.4,177.5 351.7,173.3 352.0,174.0 352.4,173.0 352.7,177.9 353.0,185.5 353.3,184.0 353.5,148.0 353.9,139.9 354.2,128.2 354.6,121.0 354.9,125.6 355.2,124.2 355.5,125.0 355.8,130.0 356.1,132.9 356.4,134.1 356.7,133.7 357.0,139.0 357.3,140.4 357.7,143.4 358.0,148.0 358.3,148.6 358.6,149.1 358.9,154.1 359.2,155.0 359.6,158.8 359.9,162.2 360.3,168.6 360.6,172.0 360.9,168.9 361.2,173.4 361.5,173.0 361.8,174.9 362.1,172.6 362.4,172.7 362.7,173.9 363.0,170.2 363.4,174.3 363.7,175.5 364.0,173.8 364.3,174.9 364.6,179.5 364.9,182.1 365.2,183.1 365.5,187.8 365.8,191.0 366.2,192.4 366.6,191.8 367.0,193.0 367.3,188.0 367.6,193.3 368.0,194.6 368.3,196.6 368.6,191.8 368.9,193.9 369.2,198.0 369.6,183.6 370.0,171.4 370.4,162.6 370.7,156.4 371.0,155.0 371.4,151.0 371.7,154.6 372.0,151.0 372.2,158.0 372.5,160.5 372.8,167.2 373.0,175.5 373.4,181.0 373.8,174.3 374.1,174.0 374.5,169.8 374.8,172.7 375.1,178.8 375.5,181.0 375.9,177.9 376.2,179.0 376.5,178.7 376.8,181.0 377.1,185.7 377.5,187.7 377.9,183.2 378.2,175.5 378.5,169.3 378.9,166.0 379.2,171.6 379.6,167.3 379.9,178.1 380.2,185.0 380.5,191.1 380.9,194.6 381.2,202.4 381.6,205.0 381.7,222.7 382.1,225.6 382.4,230.6 382.8,231.8 383.1,234.3 383.4,234.0 383.7,235.4 384.0,241.0 384.3,233.4 384.7,225.9 385.0,218.0 385.3,213.7 385.6,208.8 385.9,205.1 386.2,202.3 386.5,199.5 386.8,196.7 387.1,188.9 387.4,184.0 387.8,182.5 388.1,174.5 388.5,177.0 388.9,170.3 389.2,169.4 389.6,170.5 389.9,162.9 390.2,162.3 390.5,160.8 390.8,152.3 391.1,155.0 391.4,153.0 391.8,125.0 392.2,95.0 392.5,94.7 392.8,91.0 393.2,132.0 393.6,96.0 394.0,122.0 394.4,100.0 394.8,124.0 395.2,104.0 395.6,125.0 396.0,105.0 396.4,124.0 396.8,102.0 397.2,124.0 397.6,100.0 398.0,130.0 398.4,99.0 398.8,134.0 399.1,122.0 399.3,97.0 399.6,115.1 399.8,132.0 400.1,114.4 400.4,94.0 400.6,111.4 400.9,120.0 401.3,135.0 401.7,98.0 401.9,120.8 402.2,136.0 402.4,125.6 402.7,118.0 403.0,129.6 403.4,144.0 403.7,145.1 404.0,153.2 404.3,158.4 404.7,166.9 405.0,171.4 405.4,182.3 405.7,185.0 406.1,177.1 406.4,167.0 406.8,153.2 407.1,153.2 407.4,144.5 407.7,141.8 408.0,151.2 408.4,157.7 408.7,169.9 409.0,176.0 409.4,206.8 409.7,201.6 410.0,195.5 410.3,187.3 410.6,183.8 410.9,178.7 411.2,172.7 411.5,172.4 411.8,163.9 412.1,163.6 412.4,163.6 412.8,166.1 413.1,164.0 413.5,156.8 413.8,157.2 414.0,155.5 414.3,164.9 414.7,174.3 415.0,185.0 415.2,201.0 415.5,222.7 415.9,209.3 416.2,200.0 416.6,189.3 417.0,180.0 417.3,185.5 417.7,196.6 418.0,206.8 418.3,209.9 418.6,209.1 418.9,213.0 419.2,218.0 419.6,208.7 419.9,207.7 420.3,204.5 420.6,217.4 421.0,230.0 421.3,235.3 421.7,243.1 422.0,250.0 422.3,255.9 422.7,261.3 423.0,263.6 423.3,272.2 423.7,284.8 424.0,298.0 424.3,282.1 424.7,268.7 425.0,263.6 425.3,260.8 425.7,258.6 426.0,252.7 426.4,264.1 426.8,267.3 427.1,278.5 427.4,282.7 427.7,291.0 428.0,307.1 428.4,321.0 428.7,338.0 429.0,331.6 429.3,313.4 429.6,308.6 429.9,299.5 430.3,303.2 430.6,311.6 431.0,315.5 431.3,326.7 431.7,329.9 432.0,338.0 432.3,333.0 432.6,325.0 433.0,309.4 433.3,304.0 433.7,317.9 434.0,321.8 434.4,333.6 434.8,320.3 435.1,316.7 435.5,306.4 435.9,294.1 436.2,285.0 436.6,280.4 437.0,275.5 437.3,285.2 437.6,295.0 438.0,280.7 438.3,272.0 438.6,273.8 439.0,268.6 439.3,284.3 439.6,290.0 439.9,284.1 440.2,279.6 440.5,267.3 440.8,276.1 441.0,282.0 441.2,272.0 441.5,259.8 441.8,271.9 442.0,285.0 442.2,272.5 442.5,267.3 442.9,277.6 443.2,292.0 443.6,278.8 444.0,272.0 444.3,282.5 444.6,292.7 444.9,280.4 445.2,267.3 445.5,277.2 445.8,290.0 446.2,281.0 446.6,266.0 447.0,311.0 447.2,302.4 447.5,290.0 447.8,311.6 448.0,322.3 448.3,301.7 448.6,280.0 448.9,280.9 449.2,283.6 449.5,289.6 449.8,300.0 450.1,292.5 450.3,285.0 450.6,292.1 450.9,300.0 451.2,291.8 451.5,283.6 451.8,293.8 452.0,294.6 452.3,306.3 452.6,311.0 453.0,324.7 453.3,340.6 453.7,354.0 454.1,322.6 454.5,292.0 454.8,259.8 455.0,229.5 455.3,230.9 455.7,234.0 456.0,236.4 456.3,248.6 456.7,260.7 457.0,268.0 457.3,273.0 457.6,274.0 458.0,279.1 458.3,283.6 458.7,274.0 459.0,264.8 459.4,256.8 459.8,249.5 460.1,247.9 460.5,245.5 460.8,268.4 461.0,301.8 461.4,296.7 461.7,288.0 462.1,285.4 462.4,280.6 462.8,272.7 463.1,261.8 463.4,254.3 463.7,248.4 464.0,236.1 464.3,226.4 464.6,222.6 465.0,224.3 465.3,224.9 465.6,227.7 466.0,222.7 466.3,230.5 466.6,233.8 467.0,236.0 467.4,241.4 467.7,244.0 468.0,249.7 468.4,262.0 468.8,266.9 469.2,270.0 469.4,263.3 469.7,250.0 470.0,249.1 470.4,242.7 470.8,227.0 471.1,206.0 471.5,210.5 471.8,207.3 472.1,209.3 472.5,204.5 472.8,204.1 473.1,200.5 473.5,199.6 473.8,199.8 474.1,197.2 474.4,201.0 474.8,206.3 475.2,211.4 475.5,209.9 475.8,212.0 476.2,216.9 476.6,221.0 476.9,220.5 477.2,218.0 477.5,217.3 477.9,207.3 478.2,210.7 478.6,201.8 479.0,201.8 479.3,201.0 479.6,204.5 480.0,208.6 480.4,229.0 480.7,232.0 481.0,236.0 481.3,235.1 481.7,242.0 482.0,238.6 482.4,241.9 482.7,236.0 483.0,242.2 483.4,246.8 483.7,244.8 484.0,249.6 484.4,251.1 484.7,258.0 485.1,267.8 485.5,279.0 485.8,283.1 486.1,277.0 486.4,282.6 486.7,279.5 487.1,284.8 487.4,295.9 487.8,304.0 488.1,297.7 488.4,295.4 488.7,287.2 489.0,291.0 489.3,295.6 489.7,301.2 490.0,306.4 490.3,302.4 490.6,297.6 490.9,300.8 491.2,301.8 491.5,300.6 491.8,296.8 492.1,300.5 492.4,300.0 492.8,295.7 493.1,288.9 493.5,288.0 493.9,279.8 494.2,270.3 494.6,272.7 494.9,270.7 495.2,271.9 495.5,267.9 495.8,266.0 496.1,266.0 496.4,268.7 496.7,274.1 497.0,279.5 497.3,269.7 497.7,265.7 498.0,259.0 498.3,254.3 498.6,256.2 498.9,255.9 499.2,250.0 499.6,240.4 499.9,229.4 500.3,222.7 500.6,209.5 500.9,211.1 501.2,209.3 501.5,204.5 501.8,202.1 502.1,206.9 502.4,203.6 502.8,201.3 503.1,206.0 503.4,205.0 503.8,220.2 504.1,227.2 504.5,246.0 504.8,237.4 505.1,231.2 505.4,228.7 505.7,225.5 506.1,214.7 506.4,202.9 506.8,193.6 507.1,198.7 507.4,206.2 507.7,208.7 508.0,214.0 508.3,204.5 508.7,198.3 509.0,196.0 509.3,207.3 509.6,221.4 509.9,227.7 510.2,237.0 510.5,235.4 510.8,229.4 511.1,226.2 511.4,225.5 511.8,222.1 512.1,214.0 512.5,209.5 512.9,207.4 513.2,205.3 513.6,202.7 513.9,203.6 514.2,199.7 514.5,196.1 514.8,193.6 515.1,190.6 515.4,187.4 515.7,188.9 516.0,184.5 516.3,193.9 516.7,188.2 517.0,193.6 517.3,197.9 517.6,196.1 517.9,198.1 518.2,202.7 518.6,205.7 518.9,210.1 519.3,216.4 519.6,219.1 520.0,222.9 520.4,233.4 520.7,233.6 521.1,234.0 521.4,237.1 521.8,242.7 522.1,243.2 522.4,249.2 522.7,249.4 523.0,256.4 523.4,256.8 523.7,259.4 524.1,261.0 524.5,263.8 524.8,259.5 525.2,254.0 525.6,257.4 525.9,259.8 526.3,262.0 526.6,268.4 526.9,266.0 527.2,264.7 527.5,267.7 527.9,264.1 528.2,263.0 528.6,263.2 528.9,267.3 529.2,265.6 529.5,267.8 529.8,272.3 530.2,269.3 530.5,265.0 530.9,265.5 531.3,270.1 531.6,272.2 532.0,276.8 532.3,280.6 532.6,284.0 532.9,289.6 533.2,288.0 533.5,304.2 533.9,308.6 534.3,301.2 534.6,291.2 535.0,288.0 535.3,278.5 535.6,277.5 535.9,272.3 536.2,268.0 536.6,261.0 537.0,256.8 537.3,251.8 537.7,247.3 538.0,249.0 538.3,246.3 538.6,242.1 538.9,238.2 539.3,243.3 539.6,240.9 540.0,247.3 540.4,254.0 540.7,262.5 541.1,261.0 541.4,260.9 541.7,255.9 542.0,257.2 542.3,251.8 542.7,248.4 543.0,245.8 543.4,242.7 543.8,245.1 544.1,244.3 544.5,245.0 544.8,249.1 545.1,244.9 545.4,243.9 545.7,254.0 546.1,249.8 546.4,247.7 546.8,242.7 547.1,236.7 547.5,228.1 547.8,221.8 548.1,215.0 548.4,211.4 548.8,202.8 549.1,200.8 549.4,197.9 549.8,193.2 550.1,192.6 550.4,192.7 550.8,185.4 551.1,178.2 551.5,182.4 551.8,186.8 552.2,186.4 552.5,186.4 552.9,183.2 553.2,176.2 553.5,177.5 553.9,180.3 554.2,182.0 554.5,185.9 554.9,186.2 555.2,186.4 555.6,174.5 555.9,159.8 556.3,148.5 556.6,157.2 557.0,169.3 557.3,174.2 557.7,192.6 558.0,201.7 558.3,215.0 558.6,206.7 559.0,202.4 559.3,202.8 559.7,191.9 560.0,193.6 560.4,186.4 560.7,186.5 561.1,178.4 561.4,170.0 561.7,165.0 562.1,161.7 562.4,151.6 562.7,151.5 563.1,138.6 563.4,139.3 563.8,137.0 564.1,144.0 564.5,137.3 564.8,140.1 565.2,139.7 565.5,143.4 565.8,138.2 566.2,140.8 566.5,134.2 566.8,134.1 567.2,135.3 567.5,134.2 567.9,140.1 568.2,140.6 568.6,141.4 568.9,157.3 569.2,172.1 569.6,156.2 570.0,145.5 570.3,141.0 570.6,146.3 571.0,141.3 571.3,145.8 571.6,143.4 571.9,150.0 572.3,154.0 572.6,151.6 573.0,151.3 573.3,147.0 573.7,147.5 574.0,152.0 574.4,160.5 574.7,161.9 575.0,159.6 575.4,154.3 575.7,147.5 576.0,149.9 576.4,154.2 576.7,153.7 577.1,153.4 577.4,157.5 577.8,166.0 578.1,168.1 578.5,166.8 578.8,164.0 579.1,171.2 579.5,169.2 579.8,178.2 580.1,171.3 580.5,169.2 580.8,168.0 581.2,170.5 581.5,177.7 581.9,178.2 582.2,182.4 582.6,188.0 582.9,192.6 583.2,194.2 583.6,198.3 583.9,202.8 584.3,197.3 584.6,191.8 585.0,184.4 585.3,189.5 585.7,186.1 586.0,190.5 586.3,195.3 586.7,199.0 587.0,200.8 587.3,196.5 587.7,198.3 588.0,192.6 588.3,188.3 588.7,184.5 589.0,182.3 589.4,180.3 589.7,180.2 590.1,173.1 590.4,175.7 590.8,181.9 591.1,180.3 591.4,186.7 591.8,187.2 592.1,192.6 592.4,196.9 592.8,198.7 593.1,200.8 593.4,201.1 593.8,204.0 594.1,206.9 594.5,206.5 594.8,201.9 595.2,196.7 595.5,193.9 595.9,193.4 596.2,188.5 596.5,182.7 596.9,183.9 597.2,180.3 597.5,180.6 597.9,171.5 598.2,170.0 598.6,163.1 598.9,159.9 599.3,159.8 599.6,155.9 600.0,152.6 600.3,152.6 600.6,161.0 600.9,171.0 601.2,170.5 601.5,175.6 601.8,178.0 602.1,180.2 602.4,181.0 602.7,180.0 603.0,174.8 603.3,173.4 603.6,167.3 603.9,161.4 604.2,159.7 604.5,160.0 604.8,165.0 605.2,175.1 605.5,178.0 605.8,185.9 606.1,195.5 606.4,201.8 606.6,223.9 606.9,236.4 607.2,227.6 607.6,205.5 607.9,210.8 608.2,202.9 608.5,201.8 608.8,206.7 609.2,211.8 609.5,214.5 609.8,210.7 610.1,204.5 610.4,196.4 610.7,191.9 611.0,186.9 611.3,181.8 611.6,185.6 612.0,196.4 612.4,201.8 612.7,205.5 613.0,200.6 613.3,192.2 613.6,187.3 613.9,193.5 614.2,192.3 614.5,192.7 614.8,198.1 615.2,207.2 615.5,212.7 615.8,215.5 616.1,217.4 616.4,216.4 616.7,219.3 617.0,223.4 617.3,223.6 617.6,229.5 617.9,236.8 618.2,238.2 618.5,234.1 618.8,224.5 619.1,220.0 619.4,219.9 619.7,226.6 620.0,229.0 620.3,228.7 620.6,220.0 620.9,220.0 621.2,218.3 621.5,215.2 621.8,212.7 622.1,212.2 622.4,208.4 622.7,209.0 623.0,205.0 623.3,205.3 623.6,207.3 623.9,211.7 624.2,219.8 624.5,229.0 624.8,219.1 625.2,209.7 625.5,200.0 625.8,206.2 626.1,201.5 626.4,203.6 626.7,203.4 627.0,205.9 627.3,207.3 627.6,214.4 627.9,216.0 628.2,223.6 628.5,204.7 628.8,193.9 629.1,180.0 629.4,183.3 629.7,186.7 630.0,187.3 630.3,191.4 630.6,187.6 630.9,192.7 631.2,192.7 631.5,189.4 631.8,187.3 632.1,197.7 632.4,197.7 632.7,201.8 633.0,191.5 633.3,190.2 633.6,187.3 633.9,184.2 634.2,182.1 634.5,178.2 634.8,177.8 635.2,174.6 635.5,174.5 635.8,165.0 636.1,163.0 636.4,160.0 636.7,155.6 637.0,154.0 637.3,153.6 637.6,157.0 637.9,158.3 638.2,161.0 638.6,153.1 638.9,152.5 639.3,154.0 639.6,151.7 639.9,154.4 640.2,160.8 640.5,158.0 640.9,153.2 641.2,148.1 641.6,140.5 642.0,137.7 642.3,146.5 642.7,147.0 643.0,143.4 643.3,142.7 643.6,136.3 643.9,136.0 644.3,140.5 644.6,148.4 645.0,151.8 645.4,150.1 645.7,148.0 646.1,145.0 646.4,142.5 646.7,141.0 647.0,142.6 647.3,141.8 647.7,138.6 648.0,136.6 648.4,133.6 648.8,130.4 649.1,129.0 649.5,129.0 649.9,126.0 650.2,120.0 650.5,123.0 650.8,118.0 651.1,115.0 651.4,115.5 651.7,113.9 652.0,114.9 652.3,111.0 652.6,105.6 653.0,97.3 653.3,96.0 653.6,88.0 653.9,85.2 654.2,79.0 654.5,78.0" fill="none" stroke="#e00000" stroke-width="2.5" stroke-linejoin="round" stroke-linecap="round"/>
<line x1="69" y1="26" x2="69" y2="391" stroke="#000" stroke-width="2"/>
<line x1="660" y1="26" x2="660" y2="391" stroke="#000" stroke-width="2"/>
<line x1="660" y1="40" x2="666.5" y2="40" stroke="#000" stroke-width="2"/>
<line x1="660" y1="110" x2="666.5" y2="110" stroke="#000" stroke-width="2"/>
<line x1="660" y1="180" x2="666.5" y2="180" stroke="#000" stroke-width="2"/>
<line x1="660" y1="250" x2="666.5" y2="250" stroke="#000" stroke-width="2"/>
<line x1="660" y1="320" x2="666.5" y2="320" stroke="#000" stroke-width="2"/>
<line x1="660" y1="390" x2="666.5" y2="390" stroke="#000" stroke-width="2"/>
<text x="50" y="32.0" text-anchor="end" class="ax" textLength="35.765625" lengthAdjust="spacingAndGlyphs">0.85</text>
<text x="50" y="92.8" text-anchor="end" class="ax" textLength="25.625" lengthAdjust="spacingAndGlyphs">0.8</text>
<text x="50" y="153.5" text-anchor="end" class="ax" textLength="35.765625" lengthAdjust="spacingAndGlyphs">0.75</text>
<text x="50" y="214.2" text-anchor="end" class="ax" textLength="25.625" lengthAdjust="spacingAndGlyphs">0.7</text>
<text x="50" y="275.0" text-anchor="end" class="ax" textLength="35.765625" lengthAdjust="spacingAndGlyphs">0.65</text>
<text x="50" y="335.8" text-anchor="end" class="ax" textLength="25.625" lengthAdjust="spacingAndGlyphs">0.6</text>
<text x="50" y="396.5" text-anchor="end" class="ax" textLength="35.765625" lengthAdjust="spacingAndGlyphs">0.55</text>
<text x="678.3" y="46.1" class="ax" textLength="25.625" lengthAdjust="spacingAndGlyphs">0.7</text>
<text x="678.3" y="116.1" class="ax" textLength="25.625" lengthAdjust="spacingAndGlyphs">0.2</text>
<text x="678.3" y="186.1" class="ax" textLength="31.75" lengthAdjust="spacingAndGlyphs">-0.3</text>
<text x="678.3" y="256.1" class="ax" textLength="31.75" lengthAdjust="spacingAndGlyphs">-0.8</text>
<text x="678.3" y="326.1" class="ax" textLength="31.75" lengthAdjust="spacingAndGlyphs">-1.3</text>
<text x="678.3" y="397.4" class="ax" textLength="31.75" lengthAdjust="spacingAndGlyphs">-1.8</text>
<text x="69" y="422.8" text-anchor="middle" class="ax" textLength="98.28125" lengthAdjust="spacingAndGlyphs">03/12/2017</text>
<text x="215" y="422.8" text-anchor="middle" class="ax" textLength="98.28125" lengthAdjust="spacingAndGlyphs">03/12/2019</text>
<text x="361.5" y="422.8" text-anchor="middle" class="ax" textLength="98.28125" lengthAdjust="spacingAndGlyphs">03/12/2021</text>
<text x="508" y="422.8" text-anchor="middle" class="ax" textLength="98.28125" lengthAdjust="spacingAndGlyphs">03/12/2023</text>
<text x="654" y="422.8" text-anchor="middle" class="ax" textLength="98.28125" lengthAdjust="spacingAndGlyphs">03/12/2025</text>
<line x1="129" y1="371" x2="169" y2="371" stroke="#1482b3" stroke-width="2"/>
<text x="172.1" y="374.7" class="lg" textLength="59.3" lengthAdjust="spacing">AUD/USD</text>
<line x1="269" y1="371" x2="309" y2="371" stroke="#e00000" stroke-width="2"/>
<text x="313.2" y="374.7" class="lg" textLength="124.29" lengthAdjust="spacing">2y yield spread (rhs)</text>
</svg>
</body></html>
